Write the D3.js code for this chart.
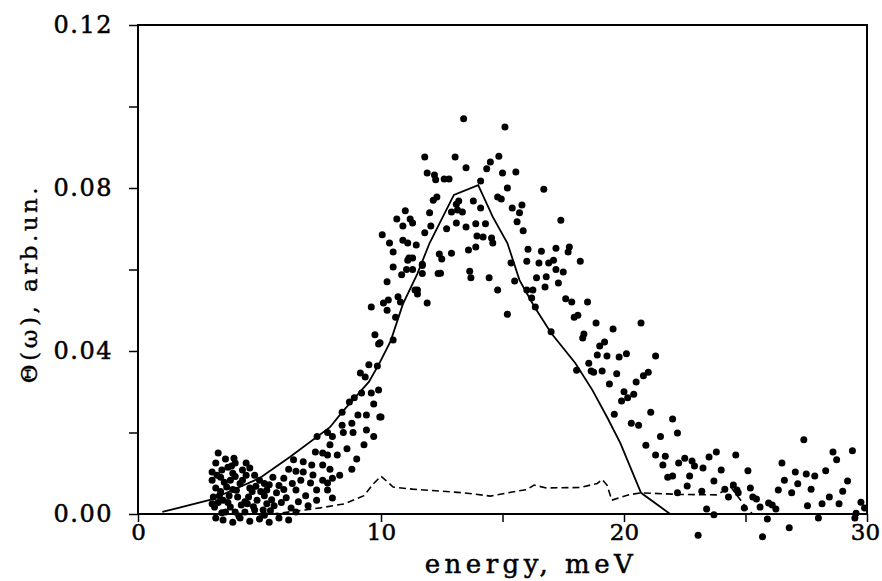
<!DOCTYPE html>
<html>
<head>
<meta charset="utf-8">
<script src="https://cdn.jsdelivr.net/npm/d3@7"></script>
<style>
  body { margin: 0; background: #fff; }
  svg text { font-family: "DejaVu Serif", serif; fill: #000; }
</style>
</head>
<body>
<div id="chart"></div>
<script>
// calculated Θ(ω), solid curve
const calcCurve = [
  [1.0, 0.0005], [3.0, 0.0035], [5.0, 0.0088], [6.25, 0.014], [7.9, 0.0213],
  [8.4, 0.025], [9.5, 0.0324], [9.9, 0.0366], [10.4, 0.0425], [10.9, 0.0515],
  [11.5, 0.059], [12.0, 0.0665], [13.0, 0.0783], [14.0, 0.0807], [14.6, 0.0729],
  [15.2, 0.0665], [15.7, 0.0574], [16.3, 0.051], [17.0, 0.0444], [18.0, 0.037],
  [18.7, 0.0304], [19.3, 0.0238], [19.85, 0.0174], [20.7, 0.0052], [21.9, 0.0]
];

// second calculated contribution, dashed curve
const dashCurve = [
  [5.5, 0.0], [6.5, 0.0007], [7.5, 0.0015], [8.5, 0.0025], [9.3, 0.0045],
  [9.7, 0.0075], [10.0, 0.0093], [10.5, 0.0066], [11.3, 0.0061], [12.5, 0.0056],
  [13.4, 0.0052], [14.5, 0.0044], [15.4, 0.0054], [16.0, 0.006], [16.3, 0.0071],
  [16.8, 0.0064], [18.2, 0.0065], [18.9, 0.0075], [19.1, 0.0085], [19.3, 0.0071],
  [19.5, 0.0034], [20.2, 0.0047], [20.7, 0.0052], [22.3, 0.0048], [23.8, 0.0047],
  [24.4, 0.0066], [24.6, 0.005], [25.1, 0.001], [25.3, 0.0]
];

// measured points
const measured = [
  [3.3,0.015],[3.6,0.0135],[3.95,0.0137],[3.2,0.0125],[3.05,0.0103],[3.45,0.0108],[3.4,0.009],
  [3.9,0.010],[4.3,0.0108],[4.6,0.0113],[3.05,0.0083],[3.8,0.0083],[4.3,0.0083],[5.0,0.0083],
  [3.2,0.0064],[3.65,0.0066],[4.1,0.0042],[4.6,0.0064],[3.1,0.0042],[3.5,0.0034],[3.15,0.0017],
  [3.8,0.0017],[4.4,0.0005],[4.9,0.0034],[5.3,0.0059],[5.55,0.009],[6.0,0.0088],[5.7,0.0052],
  [6.1,0.004],[5.15,0.001],[6.4,0.0133],[6.8,0.0128],[7.15,0.012],[6.8,0.0103],[7.2,0.0096],
  [7.6,0.012],[6.7,0.0083],[7.1,0.0076],[6.5,0.0059],[7.35,0.0059],[7.8,0.0076],[7.8,0.0145],
  [7.3,0.0152],[3.2,-0.001],[3.5,-0.0015],[3.9,-0.002],[4.2,-0.001],[4.6,-0.0018],[5.0,-0.0012],
  [5.4,-0.002],[5.8,-0.001],[6.2,-0.0015],[4.0,0.0005],[4.8,0.001],[5.6,0.002],[6.3,0.0015],
  [3.6,0.0005],[4.4,0.003],[5.2,0.0045],[6.0,0.006],[4.7,0.0055],[3.4,0.0055],[3.9,0.006],
  [4.2,0.0075],[5.5,0.0035],[6.6,0.003],[6.9,0.0045],[7.0,0.002],[4.0,0.0125],[4.8,0.0095],
  [5.2,0.0075],[5.8,0.007],[6.2,0.011],[3.7,0.0115],[4.5,0.0025],[5.3,0.0025],[3.3,0.0028],
  [6.5,0.0105],[3.25,0.0095],[3.55,0.0078],[4.0,0.0092],[4.45,0.0095],[4.05,0.0058],[3.35,0.0045],
  [3.75,0.0045],[4.25,0.0022],[3.05,0.0025],[3.7,0.0028],[4.85,0.0068],[5.05,0.0055],[5.4,0.0072],
  [4.55,0.0042],[4.75,0.0018],[5.45,0.0008],[5.9,0.0028],[6.35,0.0075],[3.45,0.0003],[4.15,-0.0005],
  [5.2,-0.0003],[6.5,0.0005],[3.85,0.0118],[4.45,0.0125],
  [7.8,0.020],[8.0,0.019],[7.9,0.017],[7.6,0.015],[8.2,0.0145],[7.9,0.011],[7.6,0.0083],
  [8.0,0.0088],[7.8,0.0059],[7.35,0.0034],[8.0,0.0039],[7.37,0.019],[8.4,0.0218],[8.45,0.020],
  [8.8,0.0223],[8.85,0.020],[9.4,0.0206],[9.7,0.019],[9.05,0.0243],[9.4,0.0243],[9.95,0.0238],
  [9.7,0.027],[9.6,0.0297],[9.9,0.0304],[9.2,0.0297],[8.7,0.0275],[8.9,0.0285],[8.4,0.025],
  [9.15,0.0346],[9.35,0.0336],[9.5,0.0366],[9.85,0.0363],[9.75,0.044],[9.9,0.0417],[10.5,0.0427],
  [10.6,0.0483],[9.6,0.0508],[10.1,0.0518],[10.25,0.050],[10.3,0.0525],[10.7,0.0533],[10.8,0.052],
  [10.25,0.057],[10.5,0.0606],[10.85,0.0587],[11.05,0.060],[11.3,0.060],[11.7,0.059],[11.7,0.061],
  [11.4,0.055],[11.5,0.054],[11.9,0.0518],[12.35,0.059],[11.1,0.0623],[10.0,0.0238],[9.96,0.042],
  [8.6,0.016],[9.0,0.0135],[9.3,0.017],[8.8,0.011],[8.3,0.0095],
  [13.4,0.097],[15.1,0.095],[11.8,0.0876],[13.05,0.0876],[14.85,0.0878],[13.5,0.085],[14.5,0.0864],
  [14.35,0.0847],[15.55,0.0839],[15.0,0.0837],[11.9,0.0837],[12.2,0.0832],[12.25,0.082],[12.6,0.0822],
  [12.8,0.0822],[14.1,0.0817],[15.2,0.080],[14.8,0.0778],[14.95,0.0773],[13.8,0.0768],[15.8,0.0758],
  [15.4,0.0751],[13.2,0.0768],[13.1,0.076],[12.15,0.077],[12.3,0.0778],[14.1,0.0751],[13.15,0.0746],
  [12.9,0.0741],[13.35,0.0741],[12.0,0.0739],[11.0,0.0744],[15.7,0.0739],[10.65,0.0724],[11.2,0.0724],
  [11.3,0.0714],[10.9,0.0707],[15.6,0.0717],[13.1,0.0714],[13.5,0.0704],[13.9,0.0712],[14.3,0.0712],
  [12.05,0.0707],[12.7,0.070],[15.85,0.0695],[10.05,0.0685],[11.8,0.069],[13.95,0.0682],[14.2,0.068],
  [14.55,0.0677],[14.6,0.0665],[10.9,0.0672],[11.1,0.0665],[11.45,0.066],[10.35,0.0665],[10.5,0.0643],
  [16.05,0.065],[13.6,0.0648],[13.9,0.0655],[12.9,0.064],[12.4,0.0638],[12.5,0.0626],[11.15,0.0628],
  [11.3,0.0628],[11.7,0.0613],[16.0,0.062],[15.35,0.0616],[13.65,0.0596],[13.7,0.058],[14.45,0.058],
  [15.5,0.0572],[11.5,0.055],[14.8,0.055],[16.0,0.055],[12.45,0.0591],[15.2,0.049],[16.7,0.0797],
  [17.4,0.0721],[16.6,0.0645],[17.2,0.0652],[17.75,0.0655],[17.7,0.0643],[18.2,0.062],[16.5,0.0616],
  [16.9,0.0616],[17.1,0.0623],[17.2,0.060],[17.5,0.0594],[16.4,0.058],[16.8,0.0582],[17.3,0.0567],
  [16.75,0.0557],[16.25,0.055],[16.2,0.053],[16.35,0.0508],[17.6,0.0528],[17.85,0.052],[18.5,0.052],
  [17.95,0.0483],[18.1,0.0488],[17.0,0.0447],[18.85,0.0469],[19.55,0.0454],[20.7,0.0469],[18.35,0.0442],
  [18.3,0.0432],[19.2,0.0422],[19.0,0.0412],[18.9,0.039],[19.3,0.0388],[19.8,0.0385],[20.1,0.0393],
  [21.3,0.0388],[18.55,0.037],[18.65,0.0351],[18.75,0.0348],[18.05,0.0353],[19.1,0.0351],[19.7,0.0344],
  [21.0,0.0348],[20.8,0.0339],[20.5,0.0324],[19.4,0.0319],[20.0,0.030],[20.4,0.0294],[20.15,0.0285],
  [19.9,0.0277],[19.6,0.0245],[21.1,0.025],[22.0,0.0233],
  [20.3,0.0223],[20.6,0.0218],[22.2,0.0199],[21.5,0.019],[20.9,0.0169],[21.3,0.0145],[21.7,0.0142],
  [21.6,0.012],[22.25,0.0125],[21.8,0.009],[22.0,0.0093],[22.5,0.0137],[22.8,0.013],[23.8,0.0152],
  [24.6,0.0145],[23.5,0.014],[22.9,0.0118],[23.25,0.0113],[24.0,0.0108],[25.1,0.0106],[22.7,0.0093],
  [23.7,0.0081],[22.6,0.0069],[22.2,0.0052],[23.2,0.0056],[24.5,0.0071],[24.15,0.0061],[24.65,0.0059],
  [25.2,0.0064],[24.7,0.0052],[24.3,0.0042],[25.3,0.0042],[25.45,0.0037],[25.6,0.0017],[25.95,0.0027],
  [26.1,0.0022],[26.25,0.0012],[24.95,0.0015],[23.4,0.0012],[23.7,-0.0002],[25.9,-0.0012],[23.05,-0.0052],
  [25.7,-0.0056],[26.8,-0.0034],[26.5,0.0125],[27.05,0.0103],[27.4,0.0182],[26.6,0.0083],[27.5,0.0098],
  [27.85,0.0093],[28.3,0.0106],[28.6,0.0152],[29.4,0.0155],[28.75,0.0133],[29.2,0.0081],[26.35,0.0059],
  [26.9,0.0052],[27.15,0.0074],[27.7,0.0061],[29.0,0.0056],[27.55,0.002],[28.15,0.0025],[28.45,0.0042],
  [28.85,0.0025],[29.75,0.0029],[29.9,0.0015],[28.0,-0.001],[29.55,0.0002],[29.5,-0.001]
];

const xTicks = [0, 5, 10, 15, 20, 25, 30];
const xLabels = [0, 10, 20, 30];
const yTicks = [0, 0.02, 0.04, 0.06, 0.08, 0.10, 0.12];
const yLabels = [0, 0.04, 0.08, 0.12];

const width = 882, height = 581;
const margin = { top: 25, right: 15, bottom: 67, left: 138 };
const plotW = width - margin.left - margin.right;
const plotH = height - margin.top - margin.bottom;

const svg = d3.select("#chart").append("svg")
  .attr("width", width)
  .attr("height", height);

const g = svg.append("g")
  .attr("transform", `translate(${margin.left},${margin.top})`);

const x = d3.scaleLinear().domain([0, 30]).range([0, plotW]);
const y = d3.scaleLinear().domain([0, 0.12]).range([plotH, 0]);

// x axis
const xAxis = g.append("g")
  .attr("transform", `translate(0,${plotH})`)
  .call(d3.axisBottom(x)
    .tickValues(xTicks)
    .tickSize(8)
    .tickPadding(2)
    .tickFormat(d => xLabels.includes(d) ? d3.format("d")(d) : ""));
xAxis.select(".domain").remove();
xAxis.selectAll("line").attr("stroke-width", 1.5);
xAxis.selectAll("text")
  .style("font-size", "23px")
  .attr("stroke", "#000")
  .attr("stroke-width", 0.5)
  .attr("fill", "#000");
// keep the last label inside the page
xAxis.selectAll("text").filter(d => d === 30).attr("dx", "-2");

// y axis
const yAxis = g.append("g")
  .call(d3.axisLeft(y)
    .tickValues(yTicks)
    .tickSize(9)
    .tickPadding(16)
    .tickFormat(d => yLabels.some(v => Math.abs(v - d) < 1e-9) ? d3.format(".2f")(d) : ""));
yAxis.select(".domain").remove();
yAxis.selectAll("line").attr("stroke-width", 1.5);
yAxis.selectAll("text")
  .style("font-size", "24px")
  .style("letter-spacing", "1.5px")
  .attr("stroke", "#000")
  .attr("stroke-width", 0.5)
  .attr("fill", "#000");

// frame
g.append("rect")
  .attr("width", plotW)
  .attr("height", plotH)
  .attr("fill", "none")
  .attr("stroke", "#000")
  .attr("stroke-width", 2);

// axis titles
svg.append("text")
  .attr("x", 531)
  .attr("y", 573)
  .attr("text-anchor", "middle")
  .attr("stroke", "#000")
  .attr("stroke-width", 0.5)
  .style("font-size", "26px")
  .style("letter-spacing", "4.5px")
  .text("energy, meV");

svg.append("text")
  .attr("transform", `translate(37,${margin.top + plotH / 2 + 14}) rotate(-90)`)
  .attr("text-anchor", "middle")
  .attr("stroke", "#000")
  .attr("stroke-width", 0.4)
  .style("font-size", "23px")
  .style("letter-spacing", "3.5px")
  .text("Θ(ω),  arb.un.");

const line = d3.line()
  .x(d => x(d[0]))
  .y(d => y(d[1]));

g.append("path")
  .datum(dashCurve)
  .attr("d", line)
  .attr("fill", "none")
  .attr("stroke", "#000")
  .attr("stroke-width", 1.6)
  .attr("stroke-dasharray", "7,4");

g.append("path")
  .datum(calcCurve)
  .attr("d", line)
  .attr("fill", "none")
  .attr("stroke", "#000")
  .attr("stroke-width", 1.8);

g.selectAll("circle.pt")
  .data(measured)
  .join("circle")
  .attr("class", "pt")
  .attr("cx", d => x(d[0]))
  .attr("cy", d => y(d[1]))
  .attr("r", 3.5)
  .attr("fill", "#000");
</script>
</body>
</html>
